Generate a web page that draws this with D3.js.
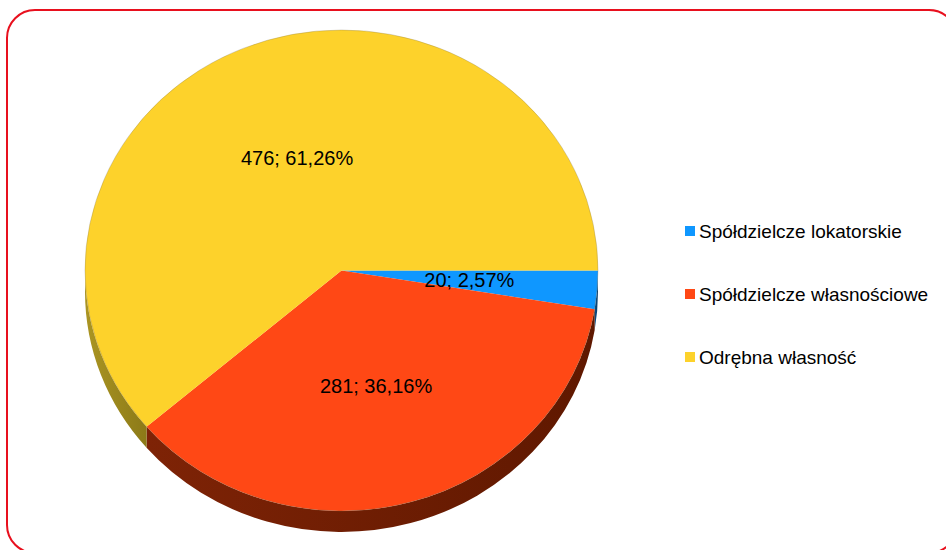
<!DOCTYPE html>
<html>
<head>
<meta charset="utf-8">
<script src="https://cdn.jsdelivr.net/npm/d3@7"></script>
<style>
  html, body { margin: 0; padding: 0; background: #fff; }
  svg { display: block; font-family: "Liberation Sans", Arial, sans-serif; }
</style>
</head>
<body>
<div id="chart"></div>
<script>
// chart data
const categories = ['Spółdzielcze lokatorskie', 'Spółdzielcze własnościowe', 'Odrębna własność'];
const values = [20, 281, 476];
const percents = ['2,57%', '36,16%', '61,26%'];
const topColors = ['#0f97ff', '#ff4815', '#fdd22b'];
const sideColors = [['#0a4f8a', '#063a66'], ['#7e2306', '#5f1800'], ['#ab9522', '#8c7a18']];

const width = 946, height = 550;
const cx = 341.5, cy = 270.5, rx = 256.5, ry = 240.5, depth = 21;

const svg = d3.select('#chart').append('svg')
  .attr('width', width)
  .attr('height', height);

// frame
svg.append('rect')
  .attr('x', 7).attr('y', 10)
  .attr('width', 950).attr('height', 543)
  .attr('rx', 28).attr('ry', 28)
  .attr('fill', '#fff')
  .attr('stroke', '#e8101e')
  .attr('stroke-width', 2);

const defs = svg.append('defs');
sideColors.forEach((c, i) => {
  const g = defs.append('linearGradient')
    .attr('id', 'side' + i)
    .attr('x1', '0%').attr('x2', '100%').attr('y1', '0%').attr('y2', '0%');
  g.append('stop').attr('offset', '0%').attr('stop-color', c[0]);
  g.append('stop').attr('offset', '100%').attr('stop-color', c[1]);
});

// d3 angles start at 12 o'clock, slice 1 starts at 3 o'clock
const pie = d3.pie().sort(null)
  .startAngle(Math.PI / 2)
  .endAngle(Math.PI / 2 + 2 * Math.PI);
const arcs = pie(values);

// screen angle (from 3 o'clock, clockwise) -> ellipse point
const ex = (t) => cx + rx * Math.cos(t);
const ey = (t) => cy + ry * Math.sin(t);

// side walls, only the front half (0..PI) is visible
const sides = svg.append('g').attr('class', 'sides');
arcs.forEach((a, i) => {
  let t0 = a.startAngle - Math.PI / 2;
  let t1 = a.endAngle - Math.PI / 2;
  t0 = Math.max(t0, 0);
  t1 = Math.min(t1, Math.PI);
  if (t1 <= t0) { return; }
  const large = (t1 - t0) > Math.PI ? 1 : 0;
  const p = 'M' + ex(t0) + ',' + ey(t0) +
    'A' + rx + ',' + ry + ' 0 ' + large + ' 1 ' + ex(t1) + ',' + ey(t1) +
    'L' + ex(t1) + ',' + (ey(t1) + depth) +
    'A' + rx + ',' + ry + ' 0 ' + large + ' 0 ' + ex(t0) + ',' + (ey(t0) + depth) + 'Z';
  sides.append('path')
    .attr('d', p)
    .attr('fill', 'url(#side' + i + ')');
});

// top surface: circular arc squashed into the ellipse
const arc = d3.arc().innerRadius(0).outerRadius(rx);
const topFace = svg.append('g')
  .attr('transform', 'translate(' + cx + ',' + cy + ') scale(1,' + (ry / rx) + ')');
topFace.selectAll('path.slice')
  .data(arcs)
  .enter()
  .append('path')
  .attr('class', 'slice')
  .attr('d', arc)
  .attr('fill', (d, i) => topColors[i]);

// faint rim on the top edge
svg.append('ellipse')
  .attr('cx', cx).attr('cy', cy)
  .attr('rx', rx).attr('ry', ry)
  .attr('fill', 'none')
  .attr('stroke', 'rgba(120,110,80,0.35)')
  .attr('stroke-width', 0.8);

// value labels at half radius
const labelArc = d3.arc().innerRadius(rx / 2).outerRadius(rx / 2);
svg.append('g').selectAll('text')
  .data(arcs)
  .enter()
  .append('text')
  .attr('x', (d) => cx + labelArc.centroid(d)[0])
  .attr('y', (d) => cy + labelArc.centroid(d)[1] * ry / rx)
  .attr('dy', '0.35em')
  .attr('text-anchor', 'middle')
  .attr('font-size', '20px')
  .attr('fill', '#000')
  .text((d, i) => values[i] + '; ' + percents[i]);

// legend
const legend = svg.append('g').attr('transform', 'translate(685,0)');
const rowY = [231, 294, 357];
categories.forEach((c, i) => {
  legend.append('rect')
    .attr('x', 0).attr('y', rowY[i] - 5)
    .attr('width', 10).attr('height', 10)
    .attr('fill', topColors[i]);
  legend.append('text')
    .attr('x', 14).attr('y', rowY[i])
    .attr('dy', '0.35em')
    .attr('font-size', '19px')
    .attr('fill', '#000')
    .text(c);
});
</script>
</body>
</html>
